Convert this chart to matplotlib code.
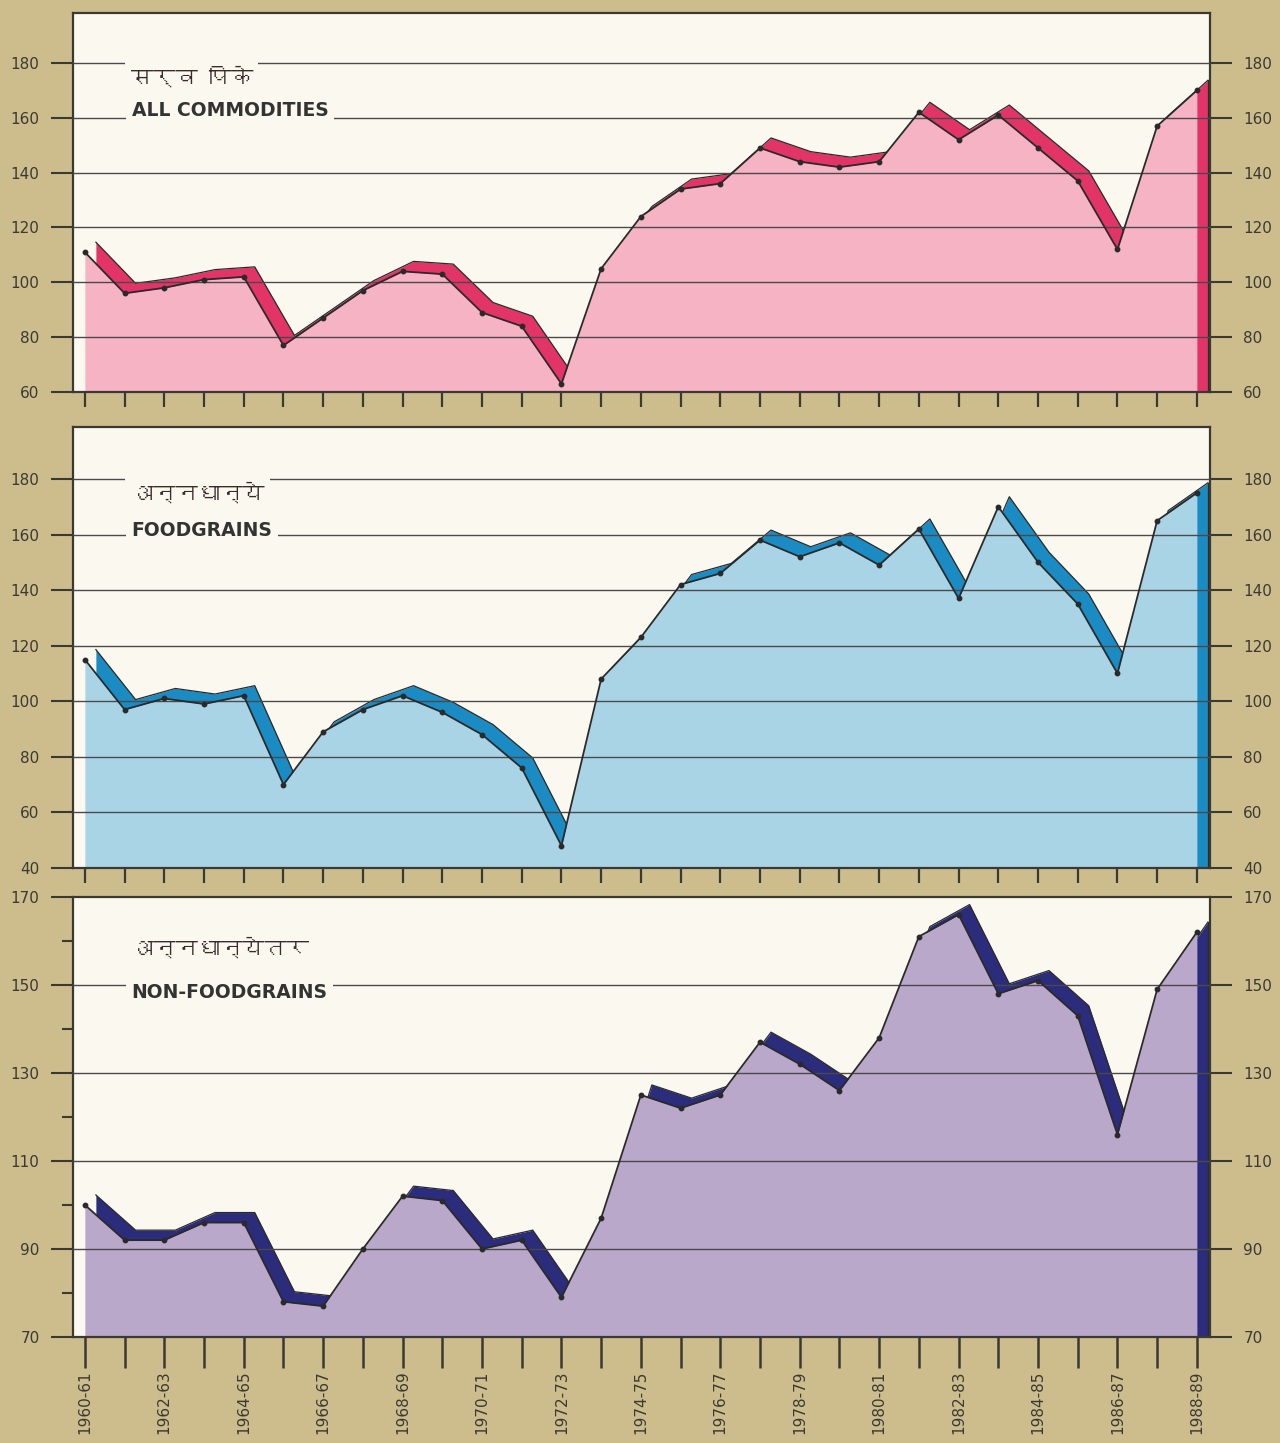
import numpy as np
import matplotlib.pyplot as plt
from matplotlib import font_manager, transforms
from matplotlib.ft2font import FT2Font

# Crop years (29 agricultural years)
years = ["1960-61", "1961-62", "1962-63", "1963-64", "1964-65", "1965-66",
         "1966-67", "1967-68", "1968-69", "1969-70", "1970-71", "1971-72",
         "1972-73", "1973-74", "1974-75", "1975-76", "1976-77", "1977-78",
         "1978-79", "1979-80", "1980-81", "1981-82", "1982-83", "1983-84",
         "1984-85", "1985-86", "1986-87", "1987-88", "1988-89"]

# Index values
all_commodities = [111, 96, 98, 101, 102, 77, 87, 97, 104, 103, 89, 84, 63, 105,
                   124, 134, 136, 149, 144, 142, 144, 162, 152, 161, 149, 137,
                   112, 157, 170]
foodgrains = [115, 97, 101, 99, 102, 70, 89, 97, 102, 96, 88, 76, 48, 108,
              123, 142, 146, 158, 152, 157, 149, 162, 137, 170, 150, 135,
              110, 165, 175]
non_foodgrains = [100, 92, 92, 96, 96, 78, 77, 90, 102, 101, 90, 92, 79, 97,
                  125, 122, 125, 137, 132, 126, 138, 161, 166, 148, 151, 143,
                  116, 149, 162]

titles_mr = ["सर्व पिके", "अन्नधान्ये", "अन्नधान्येतर"]
titles_en = ["ALL COMMODITIES", "FOODGRAINS", "NON-FOODGRAINS"]

# look for any installed font that has Devanagari glyphs
deva = None
for f in font_manager.fontManager.ttflist:
    try:
        if 0x0915 in FT2Font(f.fname).get_charmap():
            deva = f.name
            break
    except Exception:
        pass
deva_family = [deva, 'DejaVu Sans'] if deva else ['Noto Sans', 'DejaVu Sans']

BG = '#cdbd8d'
PANEL = '#fbf9ef'
INK = '#2a2a2a'
AX = '#3a3a33'

L, W = 0.057, 0.8883
panels = [
    dict(vals=all_commodities, fill='#f5b3c3', rib='#e33468', ylim=(60, 198.2),
         ticks=[60, 80, 100, 120, 140, 160, 180], grid=[80, 100, 120, 140, 160, 180],
         minor=[], pos=[L, 0.7283, W, 0.2627], ty=(175, 162.7)),
    dict(vals=foodgrains, fill='#a9d4e6', rib='#1a8bc3', ylim=(40, 198.7),
         ticks=[40, 60, 80, 100, 120, 140, 160, 180], grid=[60, 80, 100, 120, 140, 160, 180],
         minor=[], pos=[L, 0.3985, W, 0.3056], ty=(175, 161.6)),
    dict(vals=non_foodgrains, fill='#b9a8ca', rib='#2b2c7c', ylim=(70, 170),
         ticks=[70, 90, 110, 130, 150, 170], grid=[90, 110, 130, 150],
         minor=[80, 100, 120, 140, 160], pos=[L, 0.0735, W, 0.3049], ty=(158.4, 148.2)),
]

fig = plt.figure(figsize=(12.8, 14.43), dpi=100, facecolor=BG)
x = np.arange(len(years))

for k, p in enumerate(panels):
    ax = fig.add_axes(p['pos'])
    ax.set_facecolor(PANEL)
    ax.set_xlim(-0.30, 28.33)
    ax.set_ylim(*p['ylim'])
    base = p['ylim'][0]
    y = np.array(p['vals'])

    # the "3D" ribbon: same series shifted up-right in screen space
    off = transforms.offset_copy(ax.transData, fig=fig, x=11, y=10, units='dots')
    ax.fill_between(x, y, base - 100, transform=off, color=p['rib'], lw=0, zorder=1)
    ax.plot(x, y, transform=off, color=INK, lw=0.9, zorder=1.1)
    ax.plot([x[-1], x[-1]], [y[-1], base - 100], transform=off, color=INK, lw=0.9,
            zorder=1.1)

    # front face
    ax.fill_between(x, y, base, color=p['fill'], lw=0, zorder=2)
    for g in p['grid']:
        ax.axhline(g, color='#4a4a4a', lw=1.0, zorder=3)
    ax.plot(x, y, color=INK, lw=1.3, marker='o', ms=3.2, zorder=4)

    # titles
    ax.text(1.15, p['ty'][0], titles_mr[k], family=deva_family, fontsize=16,
            color='#3a2a2a', va='center', ha='left', zorder=5,
            bbox=dict(facecolor=PANEL, edgecolor='none', pad=4))
    ax.text(1.18, p['ty'][1], titles_en[k], family='DejaVu Sans', fontweight='bold',
            fontsize=13.5, color='#333333', va='center', ha='left', zorder=5,
            bbox=dict(facecolor=PANEL, edgecolor='none', pad=4))

    for s in ax.spines.values():
        s.set_color(AX)
        s.set_linewidth(1.6)

    ax.set_yticks(p['ticks'])
    ax.set_yticks(p['minor'], minor=True)
    ax.set_yticklabels([str(t) for t in p['ticks']])
    ax.tick_params(axis='y', which='major', direction='out', length=14, width=1.5,
                   color=AX, labelsize=11, labelcolor=AX, pad=5,
                   left=True, right=True, labelleft=True, labelright=True)
    ax.tick_params(axis='y', which='major', right=True, length=16, pad=8)
    ax.tick_params(axis='y', which='minor', direction='out', length=8, width=1.5,
                   color=AX, left=True, right=False)

    ax.set_xticks(x)
    if k == len(panels) - 1:
        ax.set_xticklabels([lab if i % 2 == 0 else '' for i, lab in enumerate(years)],
                           rotation=90, fontsize=11, color=AX)
        ax.tick_params(axis='x', direction='out', length=22, width=1.8, color=AX, pad=2)
    else:
        ax.set_xticklabels([])
        ax.tick_params(axis='x', direction='out', length=11, width=1.6, color=AX)

    for lab in ax.get_yticklabels() + ax.get_xticklabels():
        lab.set_family('DejaVu Sans')

fig.savefig('out.png', dpi=100, facecolor=BG)
